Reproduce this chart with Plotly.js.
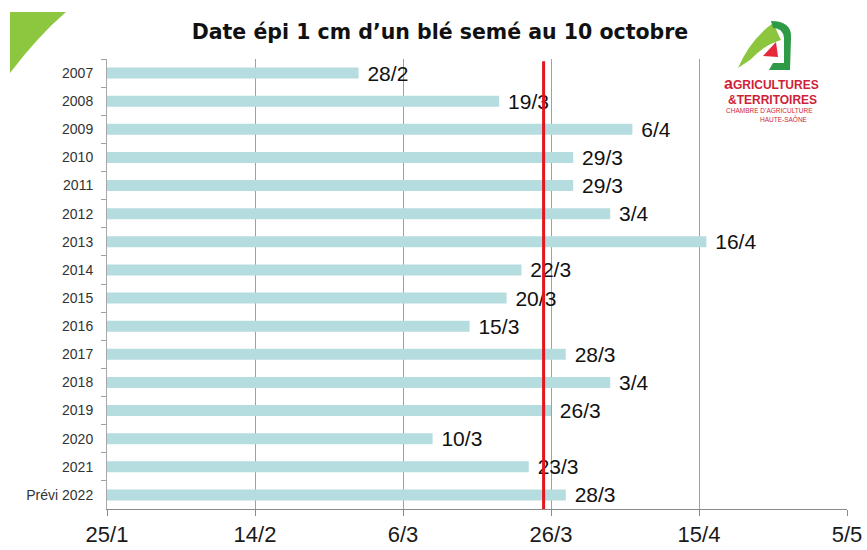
<!DOCTYPE html>
<html>
<head>
<meta charset="utf-8">
<script src="https://cdn.plot.ly/plotly-3.0.1.min.js"></script>
<style>
html,body{margin:0;padding:0;background:#ffffff;}
#chart{width:867px;height:550px;}
</style>
</head>
<body>
<div id="chart"></div>
<script>
// ---- data ----
const years = ['2007','2008','2009','2010','2011','2012','2013','2014','2015','2016','2017','2018','2019','2020','2021','Prévi 2022'];
const dateLabels = ['28/2','19/3','6/4','29/3','29/3','3/4','16/4','22/3','20/3','15/3','28/3','3/4','26/3','10/3','23/3','28/3'];
const refYear = 2022;
const axisStart = '2022-01-25';
const axisEnd = '2022-05-05';
const redLineDate = '2022-03-25';
const tickStepDays = 20;
const titleText = 'Date épi 1 cm d’un blé semé au 10 octobre';

function toIso(lbl){
  const parts = lbl.split('/');
  return refYear + '-' + parts[1].padStart(2,'0') + '-' + parts[0].padStart(2,'0');
}

// pixel -> paper helpers for decorative shapes (plot area: x 107..847, y 59..509)
const L = 107, R = 847, T = 59, B = 509;
function px(x){ return (x - L) / (R - L); }
function py(y){ return (B - y) / (B - T); }
function path(cmds){
  return cmds.map(c => {
    const nums = [];
    for (let i = 1; i < c.length; i += 2) nums.push(px(c[i]).toFixed(5) + ',' + py(c[i+1]).toFixed(5));
    return c[0] + ' ' + nums.join(' ');
  }).join(' ') + ' Z';
}

const FONT = 'Liberation Sans, Arial, sans-serif';
const NARROW = 'Liberation Sans Narrow, Arial Narrow, Liberation Sans, Arial, sans-serif';

const bars = {
  type: 'bar',
  orientation: 'h',
  y: years,
  x: dateLabels.map(toIso),
  text: dateLabels.map(s => '\u00a0' + s),
  textposition: 'outside',
  constraintext: 'none',
  cliponaxis: false,
  textfont: {family: FONT, size: 21, color: '#111111'},
  marker: {color: '#b5dde0', line: {width: 0}},
  hoverinfo: 'skip'
};

const shapes = [
  {type: 'line', xref: 'x', yref: 'paper', x0: redLineDate, x1: redLineDate, y0: 0, y1: 0.995,
   line: {color: '#e3161d', width: 3}, layer: 'above'},
  {type: 'path', xref: 'paper', yref: 'paper', layer: 'above',
   path: path([['M',10,12],['L',66,12],['Q',38,36,10,73]]),
   fillcolor: '#8dc63f', line: {width: 0}},
  {type: 'path', xref: 'paper', yref: 'paper', layer: 'above',
   path: path([['M',738,68],['Q',750,40,773,23],['L',781,40],['Q',764,45,750,60]]),
   fillcolor: '#8cc63f', line: {width: 0}},
  {type: 'path', xref: 'paper', yref: 'paper', layer: 'above',
   path: path([['M',771,21],['Q',792,21,791,38],['L',790,70],['L',769,70],['L',773,63],['L',784,63],['L',784,38],['Q',783,28,773,28]]),
   fillcolor: '#2f9a45', line: {width: 0}},
  {type: 'path', xref: 'paper', yref: 'paper', layer: 'above',
   path: path([['M',763,56],['L',776,42],['L',778,57]]),
   fillcolor: '#e5283a', line: {width: 0}}
];

const annotations = [
  {xref: 'paper', yref: 'paper', x: px(771), y: py(83), xanchor: 'center', yanchor: 'middle', showarrow: false,
   text: '<b><span style="font-size:16px">a</span>GRICULTURES</b>',
   font: {family: NARROW, size: 12, color: '#cf1f3a'}},
  {xref: 'paper', yref: 'paper', x: px(772), y: py(100), xanchor: 'center', yanchor: 'middle', showarrow: false,
   text: '<b>&amp;TERRITOIRES</b>',
   font: {family: NARROW, size: 12, color: '#cf1f3a'}},
  {xref: 'paper', yref: 'paper', x: px(769), y: py(111), xanchor: 'center', yanchor: 'middle', showarrow: false,
   text: 'CHAMBRE D’AGRICULTURE',
   font: {family: NARROW, size: 6.5, color: '#cf1f3a'}},
  {xref: 'paper', yref: 'paper', x: px(784), y: py(119), xanchor: 'center', yanchor: 'middle', showarrow: false,
   text: 'HAUTE-SAÔNE',
   font: {family: NARROW, size: 6.5, color: '#cf1f3a'}}
];

const layout = {
  width: 867, height: 550,
  margin: {l: L, r: 867 - R, t: T, b: 550 - B, pad: 0},
  paper_bgcolor: '#ffffff', plot_bgcolor: '#ffffff',
  showlegend: false,
  bargap: 0.61,
  title: {text: '<b>' + titleText + '</b>', xref: 'container', yref: 'container',
          x: 440/867, xanchor: 'center', y: 1 - 32/550, yanchor: 'middle',
          font: {family: 'DejaVu Sans, Liberation Sans, sans-serif', size: 20.5, color: '#111111'}},
  xaxis: {
    type: 'date', range: [axisStart, axisEnd],
    tick0: axisStart, dtick: tickStepDays * 86400000, tickformat: '%-d/%-m',
    showgrid: true, gridcolor: '#a0a0a0', gridwidth: 1,
    showline: true, linecolor: '#8a8a8a', linewidth: 1,
    ticks: 'outside', ticklen: 6, tickcolor: '#8a8a8a',
    ticklabelstandoff: 0,
    tickfont: {family: FONT, size: 22, color: '#1a1a1a'},
    zeroline: false, fixedrange: true
  },
  yaxis: {
    type: 'category', categoryorder: 'array', categoryarray: years, autorange: 'reversed',
    showline: true, linecolor: '#a8a8a8', linewidth: 1,
    ticks: 'outside', tickson: 'boundaries', ticklen: 5, tickcolor: '#a0a0a0',
    ticklabelstandoff: 10,
    tickfont: {family: FONT, size: 14, color: '#333333'},
    showgrid: false, zeroline: false, fixedrange: true
  },
  shapes: shapes,
  annotations: annotations
};

Plotly.newPlot('chart', [bars], layout, {staticPlot: true, displayModeBar: false});
</script>
</body>
</html>
